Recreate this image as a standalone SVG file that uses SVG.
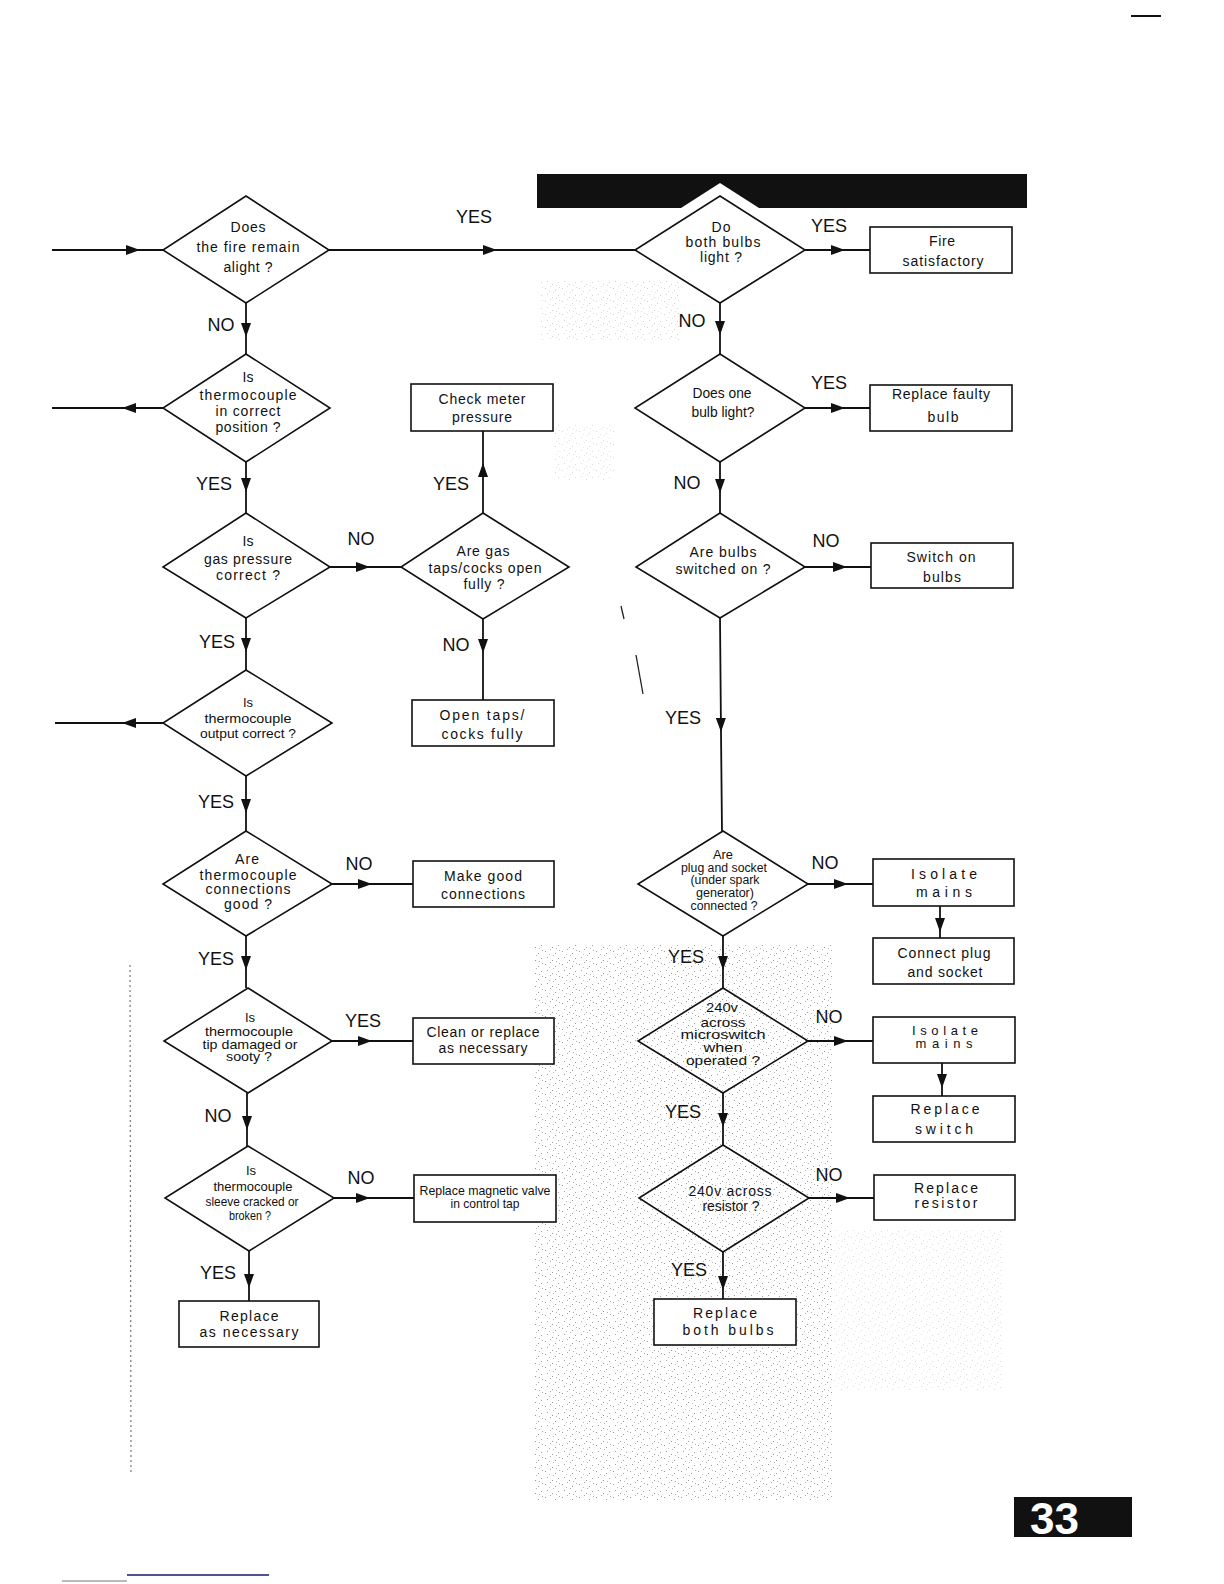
<svg xmlns="http://www.w3.org/2000/svg" width="1224" height="1584" viewBox="0 0 1224 1584">
<style>
.bg{fill:#fff}
.shape{fill:none;stroke:#111;stroke-width:1.6}
.box{fill:#fff;stroke:#111;stroke-width:1.6}
.con{fill:none;stroke:#111;stroke-width:1.8;marker-mid:url(#arr)}
.t{font-family:"Liberation Sans",Arial,sans-serif;font-size:14px;fill:#111;text-anchor:middle}
.c{font-family:"Liberation Sans",Arial,sans-serif;font-size:13px;fill:#111;text-anchor:middle}
.s{font-family:"Liberation Sans",Arial,sans-serif;font-size:12px;fill:#111;text-anchor:middle}
.lab{font-family:"Liberation Sans",Arial,sans-serif;font-size:18px;fill:#111;text-anchor:middle}
.stray{stroke:#222;stroke-width:1.3}
</style>
<defs>
<marker id="arr" viewBox="0 0 14 10" refX="14" refY="5" markerWidth="14" markerHeight="10" markerUnits="userSpaceOnUse" orient="auto">
<path d="M0,0 L14,5 L0,10 Z" fill="#111"/>
</marker>
<pattern id="grain" width="17" height="13" patternUnits="userSpaceOnUse">
<rect x="1" y="2" width="1" height="1" fill="#444"/>
<rect x="6" y="0" width="1" height="1" fill="#666"/>
<rect x="11" y="4" width="1" height="1" fill="#444"/>
<rect x="14" y="9" width="1" height="1" fill="#555"/>
<rect x="3" y="8" width="1" height="1" fill="#555"/>
<rect x="8" y="11" width="1" height="1" fill="#444"/>
<rect x="9" y="6" width="1" height="1" fill="#777"/>
<rect x="15" y="1" width="1" height="1" fill="#666"/>
<rect x="5" y="5" width="1" height="1" fill="#888"/>
<rect x="12" y="12" width="1" height="1" fill="#777"/>
</pattern>
</defs>
<rect class="bg" x="0" y="0" width="1224" height="1584"/>

<g id="texture">
<rect x="535" y="945" width="298" height="555" fill="url(#grain)" opacity="0.55"/>
<rect x="833" y="1230" width="170" height="160" fill="url(#grain)" opacity="0.2"/>
<rect x="540" y="280" width="140" height="60" fill="url(#grain)" opacity="0.25"/>
<rect x="555" y="425" width="60" height="55" fill="url(#grain)" opacity="0.2"/>
<line x1="130" y1="965" x2="131" y2="1475" stroke="#777" stroke-width="1.2" stroke-dasharray="2 3"/>
<line class="stray" x1="621" y1="606" x2="624" y2="619"/>
<line class="stray" x1="636" y1="655" x2="643" y2="694"/>
</g>

<g id="header">
<path d="M537,174 H1027 V208 H759 L720,183 L681,208 H537 Z" fill="#111"/>
<line x1="1131" y1="16" x2="1161" y2="16" stroke="#111" stroke-width="2"/>
</g>

<g id="connectors">
<path class="con" d="M52,250 L140,250 L163,250"/>
<path class="con" d="M329,250 L497,250 L635,250"/>
<path class="con" d="M246,303 L246,337 L246,354"/>
<path class="con" d="M163,408 L122,408 L52,408"/>
<path class="con" d="M246,462 L246,492 L246,513"/>
<path class="con" d="M330,567 L370,567 L401,567"/>
<path class="con" d="M483,513 L483,463 L483,431"/>
<path class="con" d="M483,619 L483,653 L483,700"/>
<path class="con" d="M246,618 L246,652 L246,670"/>
<path class="con" d="M163,723 L122,723 L55,723"/>
<path class="con" d="M246,776 L246,813 L246,831"/>
<path class="con" d="M332,884 L372,884 L413,884"/>
<path class="con" d="M246,936 L246,970 L246,988"/>
<path class="con" d="M332,1041 L372,1041 L413,1041"/>
<path class="con" d="M247,1093 L247,1130 L247,1146"/>
<path class="con" d="M334,1198 L370,1198 L414,1198"/>
<path class="con" d="M249,1251 L249,1288 L249,1301"/>
<path class="con" d="M805,250 L845,250 L870,250"/>
<path class="con" d="M720,303 L720,335 L720,354"/>
<path class="con" d="M805,408 L845,408 L870,408"/>
<path class="con" d="M720,462 L720,493 L720,513"/>
<path class="con" d="M805,567 L847,567 L871,567"/>
<path class="con" d="M720,618 L721,732 L722,831"/>
<path class="con" d="M808,884 L848,884 L873,884"/>
<path class="con" d="M940,906 L940,932 L940,938"/>
<path class="con" d="M723,936 L723,970 L723,988"/>
<path class="con" d="M808,1041 L848,1041 L873,1041"/>
<path class="con" d="M942,1063 L942,1088 L942,1096"/>
<path class="con" d="M723,1093 L723,1127 L723,1145"/>
<path class="con" d="M809,1198 L850,1198 L874,1198"/>
<path class="con" d="M723,1252 L723,1290 L723,1299"/>
</g>

<g id="labels">
<text class="lab" x="474" y="223">YES</text>
<text class="lab" x="221" y="331">NO</text>
<text class="lab" x="214" y="490">YES</text>
<text class="lab" x="451" y="490">YES</text>
<text class="lab" x="361" y="545">NO</text>
<text class="lab" x="217" y="648">YES</text>
<text class="lab" x="456" y="651">NO</text>
<text class="lab" x="216" y="808">YES</text>
<text class="lab" x="359" y="870">NO</text>
<text class="lab" x="216" y="965">YES</text>
<text class="lab" x="363" y="1027">YES</text>
<text class="lab" x="218" y="1122">NO</text>
<text class="lab" x="361" y="1184">NO</text>
<text class="lab" x="218" y="1279">YES</text>
<text class="lab" x="829" y="232">YES</text>
<text class="lab" x="692" y="327">NO</text>
<text class="lab" x="829" y="389">YES</text>
<text class="lab" x="687" y="489">NO</text>
<text class="lab" x="826" y="547">NO</text>
<text class="lab" x="683" y="724">YES</text>
<text class="lab" x="825" y="869">NO</text>
<text class="lab" x="686" y="963">YES</text>
<text class="lab" x="829" y="1023">NO</text>
<text class="lab" x="683" y="1118">YES</text>
<text class="lab" x="829" y="1181">NO</text>
<text class="lab" x="689" y="1276">YES</text>
</g>

<g id="d1">
<polygon class="shape" points="246,196 329,250 246,303 163,250"/>
<text class="t" x="248" y="232" textLength="35">Does</text>
<text class="t" x="248" y="252" textLength="103">the fire remain</text>
<text class="t" x="248" y="272" textLength="49">alight ?</text>
</g>
<g id="d2">
<polygon class="shape" points="246,354 330,408 246,462 163,408"/>
<text class="t" x="248" y="382">Is</text>
<text class="t" x="248" y="400" textLength="97">thermocouple</text>
<text class="t" x="248" y="416" textLength="65">in correct</text>
<text class="t" x="248" y="432" textLength="65">position ?</text>
</g>
<g id="d5">
<polygon class="shape" points="246,513 330,567 246,618 163,567"/>
<text class="t" x="248" y="546">Is</text>
<text class="t" x="248" y="564" textLength="88">gas pressure</text>
<text class="t" x="248" y="580" textLength="64">correct  ?</text>
</g>
<g id="d6">
<polygon class="shape" points="483,513 569,567 483,619 401,567"/>
<text class="t" x="483" y="556" textLength="53">Are gas</text>
<text class="t" x="485" y="573" textLength="113">taps/cocks open</text>
<text class="t" x="484" y="589" textLength="41">fully ?</text>
</g>
<g id="d7">
<polygon class="shape" points="246,670 332,723 246,776 163,723"/>
<text class="c" x="248" y="707">Is</text>
<text class="c" x="248" y="723" textLength="87" lengthAdjust="spacingAndGlyphs">thermocouple</text>
<text class="c" x="248" y="738" textLength="96" lengthAdjust="spacingAndGlyphs">output correct ?</text>
</g>
<g id="d9">
<polygon class="shape" points="246,831 332,884 246,936 163,884"/>
<text class="t" x="247" y="864" textLength="24">Are</text>
<text class="t" x="248" y="880" textLength="97">thermocouple</text>
<text class="t" x="248" y="894" textLength="85">connections</text>
<text class="t" x="248" y="909" textLength="48">good ?</text>
</g>
<g id="d10">
<polygon class="shape" points="248,988 332,1041 248,1093 164,1041"/>
<text class="c" x="250" y="1022">Is</text>
<text class="c" x="249" y="1036" textLength="88" lengthAdjust="spacingAndGlyphs">thermocouple</text>
<text class="c" x="250" y="1049" textLength="95" lengthAdjust="spacingAndGlyphs">tip damaged or</text>
<text class="c" x="249" y="1061" textLength="46" lengthAdjust="spacingAndGlyphs">sooty ?</text>
</g>
<g id="d14">
<polygon class="shape" points="248,1146 334,1198 249,1251 165,1198"/>
<text class="c" x="251" y="1175">Is</text>
<text class="c" x="253" y="1191" textLength="79" lengthAdjust="spacingAndGlyphs">thermocouple</text>
<text class="c" x="252" y="1206" textLength="93" lengthAdjust="spacingAndGlyphs">sleeve cracked or</text>
<text class="c" x="250" y="1220" textLength="42" lengthAdjust="spacingAndGlyphs">broken ?</text>
</g>
<g id="d3">
<polygon class="shape" points="720,196 805,250 720,303 635,250"/>
<text class="t" x="721" y="232" textLength="19">Do</text>
<text class="t" x="723" y="247" textLength="75">both bulbs</text>
<text class="t" x="721" y="262" textLength="42">light ?</text>
</g>
<g id="d4">
<polygon class="shape" points="720,354 805,408 720,462 635,408"/>
<text class="t" x="722" y="398" textLength="59" lengthAdjust="spacingAndGlyphs">Does one</text>
<text class="t" x="723" y="417" textLength="63" lengthAdjust="spacingAndGlyphs">bulb light?</text>
</g>
<g id="d8">
<polygon class="shape" points="720,513 805,567 720,618 636,567"/>
<text class="t" x="723" y="557" textLength="67">Are bulbs</text>
<text class="t" x="723" y="574" textLength="95">switched on ?</text>
</g>
<g id="d11">
<polygon class="shape" points="723,831 808,884 723,936 638,884"/>
<text class="s" x="723" y="859" textLength="20" lengthAdjust="spacingAndGlyphs">Are</text>
<text class="s" x="724" y="872" textLength="86" lengthAdjust="spacingAndGlyphs">plug and socket</text>
<text class="s" x="725" y="884" textLength="69" lengthAdjust="spacingAndGlyphs">(under spark</text>
<text class="s" x="725" y="897" textLength="58" lengthAdjust="spacingAndGlyphs">generator)</text>
<text class="s" x="724" y="910" textLength="67" lengthAdjust="spacingAndGlyphs">connected ?</text>
</g>
<g id="d12">
<polygon class="shape" points="723,988 808,1041 723,1093 638,1041"/>
<text class="c" x="722" y="1012" textLength="32" lengthAdjust="spacingAndGlyphs">240v</text>
<text class="c" x="723" y="1027" textLength="45" lengthAdjust="spacingAndGlyphs">across</text>
<text class="c" x="723" y="1039" textLength="85" lengthAdjust="spacingAndGlyphs">microswitch</text>
<text class="c" x="723" y="1052" textLength="39" lengthAdjust="spacingAndGlyphs">when</text>
<text class="c" x="723" y="1065" textLength="74" lengthAdjust="spacingAndGlyphs">operated ?</text>
</g>
<g id="d13">
<polygon class="shape" points="723,1145 809,1198 723,1252 639,1198"/>
<text class="t" x="730" y="1196" textLength="83">240v across</text>
<text class="t" x="731" y="1211" textLength="57">resistor ?</text>
</g>

<g id="b-check-meter">
<rect class="box" x="411" y="384" width="142" height="47"/>
<text class="t" x="482" y="404" textLength="87">Check meter</text>
<text class="t" x="482" y="422" textLength="60">pressure</text>
</g>
<g id="b-open-taps">
<rect class="box" x="412" y="700" width="142" height="46"/>
<text class="t" x="482" y="720" textLength="85">Open taps/</text>
<text class="t" x="482" y="739" textLength="81">cocks fully</text>
</g>
<g id="b-make-good">
<rect class="box" x="413" y="861" width="141" height="46"/>
<text class="t" x="483" y="881" textLength="78">Make good</text>
<text class="t" x="483" y="899" textLength="84">connections</text>
</g>
<g id="b-clean">
<rect class="box" x="413" y="1018" width="141" height="46"/>
<text class="t" x="483" y="1037" textLength="113">Clean or replace</text>
<text class="t" x="483" y="1053" textLength="89">as necessary</text>
</g>
<g id="b-magnetic">
<rect class="box" x="414" y="1175" width="142" height="47"/>
<text class="c" x="485" y="1195" textLength="131" lengthAdjust="spacingAndGlyphs">Replace magnetic valve</text>
<text class="c" x="485" y="1208" textLength="69" lengthAdjust="spacingAndGlyphs">in control tap</text>
</g>
<g id="b-replace-nec">
<rect class="box" x="179" y="1301" width="140" height="46"/>
<text class="t" x="249" y="1321" textLength="59">Replace</text>
<text class="t" x="249" y="1337" textLength="99">as necessary</text>
</g>
<g id="b-fire-sat">
<rect class="box" x="870" y="227" width="142" height="46"/>
<text class="t" x="942" y="246" textLength="26">Fire</text>
<text class="t" x="943" y="266" textLength="81">satisfactory</text>
</g>
<g id="b-faulty">
<rect class="box" x="870" y="385" width="142" height="46"/>
<text class="t" x="941" y="399" textLength="98">Replace faulty</text>
<text class="t" x="943" y="422" textLength="31">bulb</text>
</g>
<g id="b-switch-on">
<rect class="box" x="871" y="543" width="142" height="45"/>
<text class="t" x="941" y="562" textLength="69">Switch on</text>
<text class="t" x="942" y="582" textLength="38">bulbs</text>
</g>
<g id="b-isolate1">
<rect class="box" x="873" y="859" width="141" height="47"/>
<text class="t" x="944" y="879" textLength="66">Isolate</text>
<text class="t" x="944" y="897" textLength="56">mains</text>
</g>
<g id="b-connect">
<rect class="box" x="873" y="938" width="141" height="46"/>
<text class="t" x="944" y="958" textLength="93">Connect plug</text>
<text class="t" x="945" y="977" textLength="75">and socket</text>
</g>
<g id="b-isolate2">
<rect class="box" x="873" y="1017" width="142" height="46"/>
<text class="c" x="945" y="1035" textLength="66">Isolate</text>
<text class="c" x="944" y="1048" textLength="57">mains</text>
</g>
<g id="b-switch">
<rect class="box" x="873" y="1096" width="142" height="46"/>
<text class="t" x="945" y="1114" textLength="69">Replace</text>
<text class="t" x="944" y="1134" textLength="58">switch</text>
</g>
<g id="b-resistor">
<rect class="box" x="874" y="1175" width="141" height="45"/>
<text class="t" x="946" y="1193" textLength="64">Replace</text>
<text class="t" x="946" y="1208" textLength="63">resistor</text>
</g>
<g id="b-both">
<rect class="box" x="654" y="1299" width="142" height="46"/>
<text class="t" x="725" y="1318" textLength="64">Replace</text>
<text class="t" x="728" y="1335" textLength="91">both bulbs</text>
</g>

<g id="page">
<rect x="1014" y="1497" width="118" height="40" fill="#111"/>
<text x="1030" y="1534" font-family="'Liberation Sans',Arial,sans-serif" font-size="44" font-weight="bold" fill="#fff">33</text>
<line x1="127" y1="1575" x2="269" y2="1575" stroke="#1a1a6e" stroke-width="1.5"/>
<line x1="62" y1="1581" x2="127" y2="1581" stroke="#777" stroke-width="1"/>
</g>
</svg>
